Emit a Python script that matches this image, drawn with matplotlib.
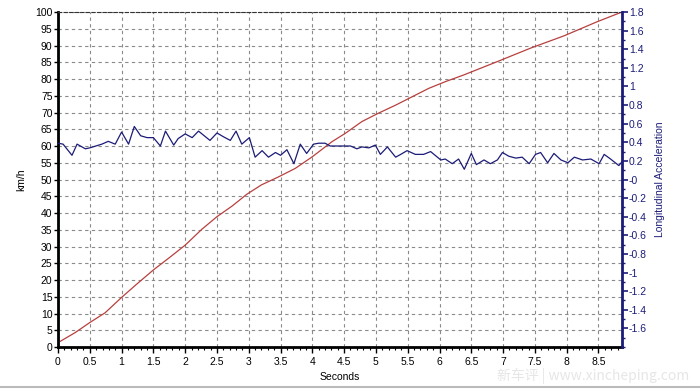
import numpy as np
import matplotlib
matplotlib.use('Agg')
import matplotlib.pyplot as plt
from matplotlib.ticker import MultipleLocator, FuncFormatter

plt.rcParams['font.family'] = ['Liberation Sans', 'DejaVu Sans']

# speed curve (km/h)
t_speed = [0.0, 0.27, 0.5, 0.74, 1.0, 1.24, 1.5, 1.76, 2.0, 2.26, 2.5, 2.74, 2.97,
           3.2, 3.47, 3.73, 4.0, 4.31, 4.52, 4.78, 5.04, 5.31, 5.57, 5.83, 6.09,
           6.38, 6.91, 7.43, 7.96, 8.48, 8.87]
speed = [1.3, 4.3, 7.3, 10.2, 14.8, 18.8, 23.0, 26.8, 30.4, 35.1, 38.9, 42.1, 45.6,
         48.4, 50.8, 53.3, 56.8, 61.3, 63.8, 67.3, 69.8, 72.2, 74.7, 77.2, 79.2,
         81.2, 85.2, 89.2, 92.9, 97.1, 100.0]

# longitudinal acceleration (g)
t_acc = [0.0, 0.08, 0.22, 0.30, 0.43, 0.50, 0.69, 0.79, 0.90, 1.00, 1.11, 1.20,
         1.30, 1.40, 1.50, 1.61, 1.69, 1.82, 1.89, 2.00, 2.11, 2.21, 2.39, 2.50,
         2.60, 2.71, 2.80, 2.89, 3.01, 3.10, 3.21, 3.31, 3.42, 3.50, 3.60, 3.71,
         3.81, 3.91, 4.02, 4.10, 4.20, 4.28, 4.49, 4.60, 4.70, 4.78, 4.89, 4.99,
         5.07, 5.18, 5.31, 5.39, 5.49, 5.62, 5.75, 5.86, 6.02, 6.09, 6.20, 6.30,
         6.39, 6.50, 6.58, 6.70, 6.80, 6.91, 6.99, 7.09, 7.20, 7.30, 7.41, 7.51,
         7.59, 7.70, 7.80, 7.91, 8.02, 8.12, 8.25, 8.38, 8.51, 8.59, 8.69, 8.82, 8.87]
acc = [0.39, 0.38, 0.26, 0.38, 0.33, 0.34, 0.38, 0.41, 0.38, 0.51, 0.38, 0.57,
       0.47, 0.45, 0.45, 0.36, 0.52, 0.37, 0.44, 0.49, 0.45, 0.52, 0.42, 0.50,
       0.46, 0.42, 0.52, 0.38, 0.45, 0.24, 0.31, 0.24, 0.29, 0.26, 0.32, 0.17,
       0.38, 0.28, 0.38, 0.39, 0.39, 0.36, 0.36, 0.36, 0.33, 0.35, 0.34, 0.37,
       0.27, 0.35, 0.24, 0.27, 0.31, 0.27, 0.27, 0.30, 0.21, 0.22, 0.17, 0.22,
       0.11, 0.28, 0.16, 0.21, 0.17, 0.21, 0.29, 0.25, 0.23, 0.24, 0.17, 0.27,
       0.29, 0.18, 0.28, 0.21, 0.18, 0.24, 0.21, 0.22, 0.17, 0.27, 0.22, 0.15, 0.19]

x_ticks = np.arange(0, 8.51, 0.5)
acc_ticks = np.arange(-1.6, 1.81, 0.2)

navy = '#1c1c78'
red = '#b8403e'

fig = plt.figure(figsize=(7, 3.89), dpi=100)
ax = fig.add_axes([58/700, 1 - 347/389, (622 - 58)/700, (347 - 12)/389])
ax2 = ax.twinx()

ax.plot(t_speed, speed, color=red, lw=0.9)
ax2.plot(t_acc, acc, color=navy, lw=0.9)

ax.set_xlim(0, 8.87)
ax.set_ylim(0, 100)
ax2.set_ylim(-1.8, 1.8)

ax.set_xticks(x_ticks)
ax.xaxis.set_major_formatter(FuncFormatter(lambda v, p: '%g' % round(v, 1)))
ax.xaxis.set_minor_locator(MultipleLocator(0.1))
ax.set_yticks(np.arange(0, 101, 5))
ax2.set_yticks(acc_ticks)
ax2.yaxis.set_major_formatter(FuncFormatter(lambda v, p: '%g' % round(v, 1)))
ax2.yaxis.set_minor_locator(MultipleLocator(0.1))

ax.grid(True, color='#8a8a8a', ls=(0, (3, 3)), lw=0.8)
ax.set_axisbelow(True)

ax.tick_params(axis='x', which='major', length=4, width=1, labelsize=7.5, pad=3)
ax.tick_params(axis='x', which='minor', length=2, width=0.8)
ax.tick_params(axis='y', length=3, width=1, labelsize=7.5, pad=1)
ax2.tick_params(axis='y', which='major', length=4, width=1.2, colors=navy, labelsize=7.5, pad=1)
ax2.tick_params(axis='y', which='minor', length=2.5, width=1, colors=navy)

for sp in ['left', 'bottom']:
    ax.spines[sp].set_linewidth(2)
    ax.spines[sp].set_color('black')
ax.spines['top'].set_linestyle((0, (3, 2)))
ax.spines['top'].set_color('#333333')
ax.spines['right'].set_visible(False)
ax2.spines['top'].set_visible(False)
ax2.spines['left'].set_visible(False)
ax2.spines['bottom'].set_visible(False)
ax2.spines['right'].set_linewidth(2)
ax2.spines['right'].set_color(navy)

# thin cyan edge next to the left axis
ax.axvline(0.018, color='#8fe0ea', lw=0.6)

ax.set_xlabel('Seconds', fontsize=7.5, labelpad=4)
ax.set_ylabel('km/h', fontsize=7.5, labelpad=6)
ax2.set_ylabel('Longitudinal Acceleration', fontsize=7.5, color=navy, labelpad=6)

fig.text(0.985, 0.012, '新车评 | www.xincheping.com', ha='right', va='bottom',
         fontsize=10, color='#e6e6e6', family=['Noto Sans CJK SC', 'DejaVu Sans'])
fig.add_artist(plt.Line2D([0, 1], [0.004, 0.004], color='#bbbbbb', lw=1.5))

fig.savefig('out.png', dpi=100)
